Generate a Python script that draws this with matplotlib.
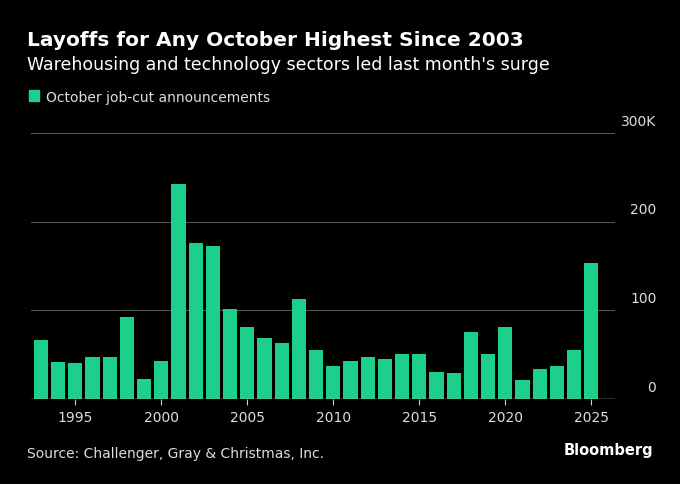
import matplotlib.pyplot as plt
from matplotlib.patches import Rectangle

years = list(range(1993, 2026))
cuts = [67, 42, 41, 47, 47, 92, 23, 43, 242, 176, 172, 102, 81, 69, 63, 113,
        55, 37, 43, 47, 45, 51, 51, 31, 29, 76, 51, 81, 22, 34, 37, 55, 153]
yticks = [0, 100, 200, 300]
ylabels = ["0", "100", "200", "300K"]
xticks = [1995, 2000, 2005, 2010, 2015, 2020, 2025]

BG = "black"
GREEN = "#1ccf8a"

fig = plt.figure(figsize=(6.8, 4.85), dpi=100, facecolor=BG)
ax = fig.add_axes([0.045, 0.175, 0.86, 0.549], facecolor=BG)

ax.bar(years, cuts, width=0.82, color=GREEN, zorder=3)
ax.set_ylim(0, 300)
ax.set_xlim(1992.4, 2026.4)

for y in yticks[1:]:
    ax.axhline(y, color="#555555", linewidth=0.8, zorder=1)
ax.axhline(0, color="#cccccc", linewidth=1.0, zorder=4)
for y, lab in zip(yticks, ylabels):
    ax.text(1.07, y + 6, lab, transform=ax.get_yaxis_transform(), color="#dddddd",
            fontsize=10, ha="right", va="bottom")

ax.set_yticks([])
ax.set_xticks(xticks)
ax.tick_params(axis="x", colors="#dddddd", labelsize=10, length=4, color="#cccccc")
for s in ax.spines.values():
    s.set_visible(False)

fig.text(0.04, 0.905, "Layoffs for Any October Highest Since 2003", color="white",
         fontsize=14.5, fontweight="bold")
fig.text(0.04, 0.855, "Warehousing and technology sectors led last month's surge",
         color="white", fontsize=12.5)
fig.patches.append(Rectangle((0.042, 0.79), 0.016, 0.022, transform=fig.transFigure,
                             color=GREEN))
fig.text(0.067, 0.79, "October job-cut announcements", color="#dddddd", fontsize=10)
fig.text(0.04, 0.055, "Source: Challenger, Gray & Christmas, Inc.", color="#dddddd",
         fontsize=10)
fig.text(0.96, 0.062, "Bloomberg", color="white", fontsize=10.5, fontweight="bold",
         ha="right")

fig.savefig("out.png", dpi=100, facecolor=BG)
